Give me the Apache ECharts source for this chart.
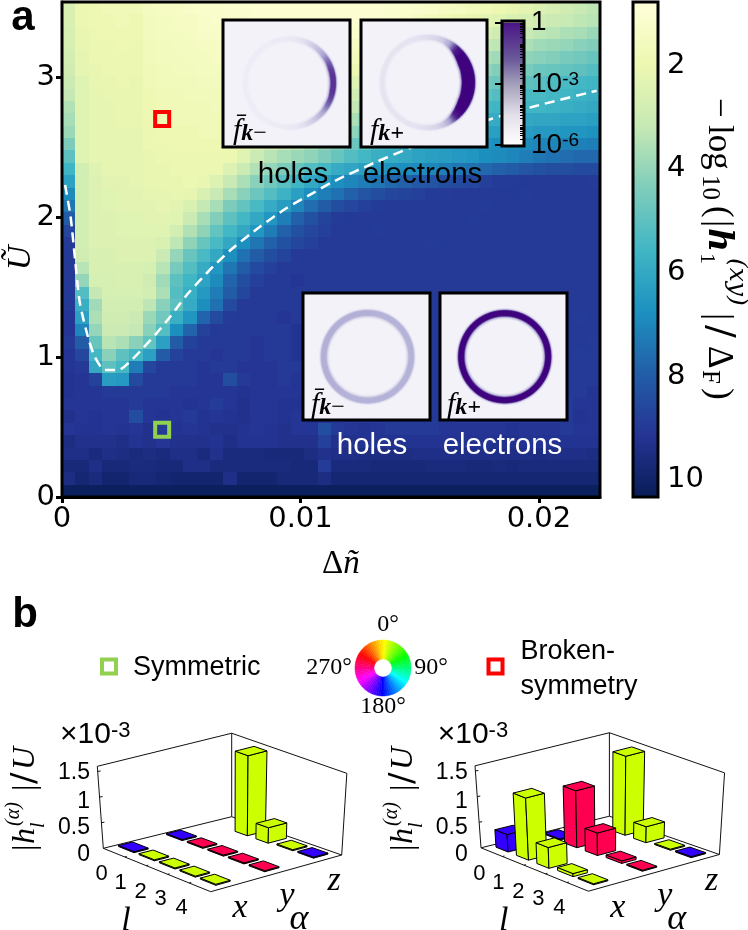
<!DOCTYPE html>
<html><head><meta charset="utf-8">
<style>html,body{margin:0;padding:0;background:#fff}#c{width:748px;height:930px}</style>
<script src="https://cdn.jsdelivr.net/npm/echarts@6/dist/echarts.min.js"></script>
</head><body><div id="c"></div>
<script>
// ---------- DATA ----------
const xMax = 0.02256, yMax = 3.536, vMin = 0.78, vMax = 10.33;
const xTicks = [0, 0.01, 0.02];
const yTicks = [0, 1, 2, 3];
const cbTicks = [2, 4, 6, 8, 10];
const paletteYlGnBu = ['#ffffd9','#edf8b1','#c7e9b4','#7fcdbb','#41b6c4','#1d91c0','#225ea8','#253494','#081d58'];
// heat rows from the top of the picture to the bottom, 40 cells each
const heatRows = [
[2.6,2.0,1.9,1.8,1.8,1.8,1.5,1.4,1.4,1.3,1.2,1.2,1.1,1.1,1,1,1,1,1,1,1,1,1,1,1.1,1.1,1.2,1.3,1.4,1.5,1.7,1.8,2,2.1,2.3,2.5,2.7,2.9,3.1,3.3],
[2.6,2.0,1.9,1.9,1.8,1.9,1.6,1.5,1.4,1.4,1.3,1.2,1.2,1.2,1.1,1.1,1.1,1.1,1,1,1,1,1,1.1,1.1,1.2,1.4,1.6,1.8,2,2.1,2.3,2.4,2.6,2.7,2.9,3,3.1,3.3,3.4],
[2.7,2.1,2,1.9,1.9,1.9,1.6,1.5,1.5,1.4,1.3,1.3,1.2,1.2,1.2,1.2,1.1,1.1,1.1,1.1,1.1,1.2,1.3,1.4,1.5,1.7,1.9,2,2.2,2.4,2.6,2.7,2.9,3,3.1,3.3,3.4,3.6,3.7,3.9],
[2.7,2.1,2,2,1.9,2,1.7,1.6,1.5,1.5,1.4,1.4,1.3,1.3,1.3,1.2,1.2,1.2,1.2,1.2,1.3,1.4,1.5,1.7,1.9,2.1,2.3,2.5,2.7,2.9,3,3.2,3.3,3.5,3.6,3.8,3.9,4,4.2,4.3],
[2.8,2.2,2,2,2,2,1.7,1.6,1.6,1.5,1.5,1.4,1.4,1.4,1.3,1.3,1.3,1.3,1.3,1.4,1.5,1.6,1.8,2,2.3,2.6,2.8,3,3.1,3.3,3.5,3.7,3.8,4,4.1,4.2,4.3,4.5,4.6,4.8],
[2.9,2.2,2.1,2,2,2,1.8,1.7,1.6,1.6,1.5,1.5,1.5,1.4,1.4,1.4,1.4,1.4,1.5,1.6,1.8,2,2.2,2.5,2.7,3,3.2,3.4,3.6,3.8,4,4.1,4.3,4.4,4.5,4.7,4.8,4.9,5,5.2],
[3,2.4,2.1,2.1,2,2.1,1.8,1.7,1.7,1.7,1.6,1.6,1.5,1.5,1.5,1.5,1.5,1.6,1.7,1.9,2.1,2.4,2.7,3,3.2,3.5,3.7,3.9,4.1,4.3,4.4,4.6,4.7,4.9,5,5.1,5.3,5.4,5.5,5.6],
[3.2,2.4,2.2,2.1,2.1,2.1,1.9,1.8,1.8,1.7,1.7,1.7,1.6,1.6,1.6,1.6,1.7,1.8,2,2.2,2.5,2.8,3.1,3.4,3.7,4,4.2,4.3,4.5,4.7,4.9,5,5.2,5.3,5.4,5.4,5.5,5.6,5.7,5.8],
[3.5,2.4,2.2,2.2,2.1,2.1,1.9,1.8,1.8,1.8,1.8,1.7,1.7,1.7,1.7,1.8,1.9,2.1,2.3,2.6,2.9,3.2,3.5,3.8,4.1,4.4,4.6,4.8,5,5.2,5.3,5.5,5.6,5.6,5.6,5.6,5.7,5.8,5.9,6],
[3.7,2.4,2.2,2.2,2.1,2.1,2,1.9,1.8,1.8,1.8,1.8,1.8,1.8,1.9,2,2.2,2.4,2.7,3,3.3,3.6,4,4.3,4.6,4.9,5.1,5.3,5.4,5.6,5.8,5.9,5.9,6,6,6.1,6.1,6.2,6.2,6.3],
[3.9,2.4,2.2,2.2,2.2,2.2,2,1.9,1.9,1.9,1.8,1.8,1.8,1.9,2.1,2.3,2.5,2.8,3.1,3.4,3.8,4.1,4.5,4.8,5.1,5.3,5.5,5.7,5.9,6,6.2,6.3,6.3,6.4,6.4,6.5,6.5,6.6,6.6,6.7],
[4.4,2.4,2.2,2.2,2.2,2.2,2,2,1.9,1.9,1.9,1.9,2,2.1,2.4,2.7,3,3.3,3.6,4,4.3,4.7,5,5.4,5.6,5.8,6,6.2,6.3,6.5,6.6,6.7,6.8,6.9,6.9,7,7,7.1,7.1,7.2],
[5,2.4,2.2,2.2,2.2,2.2,2.1,2,2,2,2,2,2,2.4,3,3.4,3.7,3.9,4.1,4.4,4.8,5.2,5.5,5.8,5.9,6,6.2,6.3,6.4,6.5,6.6,6.8,6.9,7,7.2,7.4,7.5,7.6,7.7,7.7],
[5.6,2.8,2.4,2.2,2.2,2.2,2.1,2.1,2,2,2,2,2.5,3,3.5,4,4.4,4.8,5.2,5.5,5.9,6.1,6.3,6.5,6.7,6.8,6.9,7,7.2,7.4,7.5,7.7,7.9,8,8.2,8.3,8.4,8.4,8.5,8.5],
[6.2,2.8,2.5,2.3,2.3,2.2,2.1,2.1,2.1,2,2.1,2.5,3.1,3.6,4.2,4.6,5.1,5.6,6,6.4,6.8,7,7.2,7.4,7.7,7.9,8.1,8.2,8.4,8.5,8.6,8.8,8.9,8.9,9,9,9,9,9,8.9],
[6.9,2.8,2.5,2.4,2.3,2.3,2.2,2.2,2.1,2.2,2.6,3.1,3.7,4.2,4.7,5.2,5.7,6.3,6.8,7.2,7.5,7.9,8.2,8.4,8.6,8.7,8.8,8.9,8.9,9,9,9,9,9,8.9,9,9,9,9,9],
[7.4,2.8,2.5,2.4,2.3,2.3,2.3,2.2,2.3,2.6,3.2,3.7,4.4,4.9,5.4,5.9,6.4,7,7.6,8,8.4,8.6,8.8,8.9,9,9,9,9,9,9,9,8.9,9,9,9,9,9,9,9,9],
[8,2.8,2.5,2.5,2.4,2.4,2.3,2.3,2.4,3,3.7,4.3,5,5.5,6,6.6,7.2,7.9,8.3,8.7,8.9,9,9,9,9,9,9,9,9,9,8.9,9,9,9,9,9,9,9,9,9],
[8.6,2.8,2.5,2.5,2.4,2.4,2.4,2.4,2.8,3.5,4.1,4.9,5.5,6,6.6,7.25,7.9,8.3,8.6,8.8,9,9,9,8.9,9,9,9,9,9,9,9,9,9,9,9,9,9,9,9,9],
[8.9,2.8,2.5,2.5,2.5,2.5,2.5,2.6,3.3,4.1,4.8,5.4,6,6.8,7.4,7.9,8.3,8.6,8.8,9,9,9,9,9,9,9,9,8.9,9,9,9,9,9,9,9,9,9,9,9,9],
[9,2.9,2.6,2.6,2.5,2.5,2.5,3,4,4.8,5.4,6,6.8,7.5,8,8.4,8.7,9,9,9,9,9,9,9,9,9,9,9,9,9,9,9,9,9,9,9,9,9,9,9],
[9,3.4,2.6,2.6,2.6,2.6,2.7,3.4,4.5,5.2,5.9,6.6,7.4,8,8.5,8.8,9,9,9,9,9,9,9,9,9,9,9,9,9,9,9,9,9,9,9,9,9,9,9,9],
[9,4,2.7,2.7,2.6,2.6,2.9,3.8,5,5.6,6.2,6.9,7.8,8.4,8.8,9,9,9.1,9,9,9,9,9,9,9,9,9,9,9,9,9,9,9,9,9,9,9,9,9,9],
[9,5.2,3.2,2.7,2.7,2.7,2.8,3.6,5.2,5.8,6.5,7.25,8,8.6,9,9,9,9,9,9,9,9,9,9,9,9,9,9,9,9,9,9,9,9,9,9,9,9,9,9],
[9,5.8,3.8,2.8,2.8,2.8,3.3,4.2,5,5.9,6.8,7.5,8.5,9,9,9,9,9,9,9,9,9,9,9,9,9,9,9,9,9,9,9,9,9,9,9,9,9,9,9],
[9.1,6.25,3.6,2.9,2.9,3,3.9,4.6,5.8,6.6,7.8,8.5,8.9,9,9,9,9.1,9,9,9,9,9,9,9,9,9,9,9,9,9,9,9,9,9,9,9,9,9,8.9,9],
[9.1,7,4,3,3,3.2,4.2,5.2,6.8,7.8,8.75,9,9,9,9,9,9,9.2,9,9,9,9,9,9,9,9,9,9,9,9,9,9,9,9,9,9,9,9,9,9],
[9,8,4.8,3.4,3.6,4.2,4.9,6.25,8,8.75,9,9,9,9,9.1,9,9,9.2,9,9,9,9,9,9,9,9,9,9,9,9,9,9,9,9,9,9,9,9,9,8.9],
[9.1,8.6,5.5,4.2,5,5.5,6.25,8,8.75,9,9,9.1,9,9,9.1,9,9,9.2,9.2,9,9,9,9,9,9,9,9,9,9,9,9,9,9,9,9,9,9,9,8.9,8.9],
[9.1,9,6,5,5.5,7.25,8.6,9,9,9,9.1,9,9,9.1,9.1,9.1,9,9,9.2,9,9,9,9,9,9,9,9,9,9,9,9,9,9,9,9,9,9,9,9,9],
[9.2,9.1,8.75,6.4,6.5,8.5,9,9,9,9,9.1,9.1,8.4,9,9.1,9.1,9,9.1,9.1,9,9,9,9,9,9,9,9,9,9,9,9,9,9,9,9,9,9,9,9,9],
[9.2,9.1,9.1,9,9,9,9,9,9.1,9.1,9.1,9.1,9.1,9.2,9.1,9.1,9.1,9.1,9.2,9.1,9,9,9,9,9,9,9,9,9,9,9,9,9,9,9,9,9,9,9,9.1],
[9.1,9.1,9.1,9.1,9.1,9,9.1,9.1,9.1,9.2,9.1,8.9,9.1,9.3,9.1,9.1,9.2,9.2,9.3,9.1,9,9,9,9,9,9,9,9,9,9,9,9,9,9,9,9,9,9,9.1,9.1],
[9.3,9.1,9.2,9.1,9.1,8.4,9.1,9.2,9.1,9,9.2,9.1,9.2,9.3,9.1,9.1,9.2,9.1,9.2,9.1,9.1,9,9,9,9,9,9,9,9,9,9,9,9,9,9,9,9,9,9.2,9.1],
[9.1,9.2,9.2,9.1,9.2,9.1,9.3,9,9.2,9.1,9.2,9.3,9.3,9.2,9.1,9.2,9.3,9.1,9.1,8.4,9,9.1,9.2,9.1,9,9,9,9,9.1,9.1,9.1,9.1,9.1,9.2,9.1,9.1,9.1,9,9.1,9.1],
[9.5,9.3,9.3,9.3,9.4,9.2,9.3,9.1,9.3,9.3,9.3,9.2,9.4,9.2,9.2,9.2,9.3,9.3,9.3,8.8,9.3,9.3,9.2,9.2,9.2,9.2,9.2,9.2,9.2,9.2,9.2,9.2,9.3,9.3,9.2,9.2,9.2,9.2,9.2,9.2],
[9.4,9.4,9.6,9.4,9.5,9.6,9.5,9.6,9.4,9.4,9.6,9.3,9.6,9.6,9.6,9.7,9.7,9.7,9.5,9.3,9.4,9.4,9.5,9.5,9.5,9.5,9.4,9.4,9.4,9.4,9.4,9.4,9.4,9.4,9.4,9.5,9.4,9.4,9.4,9.5],
[9.7,9.7,9.4,9.7,9.7,9.6,9.6,9.7,9.7,9.4,9.4,9.6,9.6,9.6,9.6,9.6,9.6,9.7,9.7,8.9,9.6,9.6,9.6,9.7,9.7,9.7,9.7,9.6,9.6,9.6,9.7,9.7,9.6,9.7,9.6,9.6,9.6,9.6,9.6,9.6],
[9.5,9.8,9.6,9.9,9.9,9.7,9.7,9.8,9.9,9.9,9.9,9.9,9.4,9.9,9.9,9.9,9.7,9.7,9.7,9.5,9.8,9.8,9.8,9.8,9.8,9.8,9.8,9.8,9.8,9.8,9.8,9.8,9.8,9.8,9.8,9.8,9.8,9.8,9.8,9.8],
[10.2,10.2,10.2,10.2,10.2,10.2,10.2,10.2,10.2,10.2,10.2,10.2,10.2,10.2,10.2,10.2,10.2,10.2,10.2,10.2,10.2,10.2,10.2,10.2,10.2,10.2,10.2,10.2,10.2,10.2,10.2,10.2,10.2,10.2,10.2,10.2,10.2,10.2,10.2,10.2]
];
const boundaryX = [.00013,.00036,.00055,.00075,.00109,.00138,.0018,.00235,.00292,.0034,.00397,.00453,.00523,.00633,.00717,.0083,.00942,.01052,.01136,.0132,.01472,.01786,.01975,.02242];
const boundaryY = [2.229,2.002,1.693,1.386,1.143,1.0,.907,.907,.979,1.064,1.171,1.286,1.443,1.645,1.779,1.931,2.064,2.171,2.252,2.395,2.502,2.693,2.788,2.902];
const symmetricPoint = [0.0042, 0.48];
const brokenPoint = [0.0042, 2.70];

// ring intensity and width, starting east and going round every 10 degrees
const ringA_I = [.85,.85,.8,.68,.5,.34,.22,.13,.08,.06,.05,.05,.04,.04,.04,.04,.04,.04,.04,.04,.04,.04,.04,.04,.04,.05,.05,.06,.08,.13,.22,.34,.5,.68,.8,.85];
const ringA_W = [4.5,4.5,4.5,4,4,3.5,3.5,3.5,3.5,3.5,3.5,3.5,3.5,3.5,3.5,3.5,3.5,3.5,3.5,3.5,3.5,3.5,3.5,3.5,3.5,3.5,3.5,3.5,3.5,3.5,3.5,3.5,3.5,4,4,4.5];
const ringB_I = [1,1,1,1,1,.92,.5,.26,.18,.14,.11,.1,.09,.09,.09,.09,.09,.09,.09,.09,.09,.09,.09,.09,.09,.1,.11,.14,.18,.26,.5,.92,1,1,1,1];
const ringB_W = [12,12,11.5,11,9.5,7.5,5.5,4,3.5,3.5,3.5,3.5,3.5,3.5,3.5,3.5,3.5,3.5,3.5,3.5,3.5,3.5,3.5,3.5,3.5,3.5,3.5,3.5,3.5,4,5.5,7.5,9.5,11,11.5,12];
const ringC_I = [.42,.42,.42,.42,.42,.42,.42,.42,.42,.44,.44,.44,.44,.44,.44,.44,.44,.44,.44,.44,.44,.44,.44,.44,.42,.42,.42,.42,.42,.42,.42,.42,.42,.42,.42,.42];
const ringC_W = [4.5,4.5,4.5,4.5,4.5,4.5,4.5,4.5,4.5,4.5,4.5,4.5,4.5,4.5,4.5,4.5,4.5,4.5,4.5,4.5,4.5,4.5,4.5,4.5,4.5,4.5,4.5,4.5,4.5,4.5,4.5,4.5,4.5,4.5,4.5,4.5];
const ringD_I = [1,1,1,1,1,1,1,1,1,1,1,1,1,1,1,1,1,1,1,1,1,1,1,1,1,1,1,1,1,1,1,1,1,1,1,1];
const ringD_W = [5,5,5,5,5,5,5,5,5,5,5,5,5,5,5,5,5,5,5,5,5,5,5,5,5,5,5,5,5,5,5,5,5,5,5,5];

const lLabels = ['0','1','2','3','4'];
const alphaLabels = ['x','y','z'];
const zLabels = ['1.5','1','0.5','0'];
// bar heights (units of 1e-3), index = l
const symX = [.02,.02,.02,.02,.02], symY = [.02,.02,.02,.02,.02], symZ = [null,1.55,.30,.02,.02];
const brkX = [.34,1.22,.41,.06,.02], brkY = [.02,1.11,.44,.05,.02], brkZ = [null,1.53,.31,.02,.02];
// phase colour index for each bar: 0 green, 1 red, 2 blue
const phaseX = [2,0,0,0,0], phaseY = [2,1,1,1,1], phaseZ = [null,0,0,0,2];
const phaseColors = ['#ccff00','#ff0050','#3300ff'];

// ---------- LAYOUT ----------
const chart = echarts.init(document.getElementById('c'));
const xStep = xMax/40, yStep = yMax/40;
const heatData = [];
heatRows.forEach((row,r)=>row.forEach((v,c)=>heatData.push([c,39-r,v])));
const colorOf = v => echarts.color.lerp(Math.min(1,Math.max(0,(v-vMin)/(vMax-vMin))), paletteYlGnBu);
const cbStops = paletteYlGnBu.map((c,i)=>({offset:i/8,color:c}));
const purple = ['#f4f2f9','#cfcbe4','#a9a6d2','#6a51a3','#3f007d'];
const ringMix = t => echarts.color.lerp(Math.min(1,t), purple);

const insets = [[223,20,127,127],[361,20,126,127],[303,293,127,127],[440,293,127,127]];
const rings = [
 {c:[289.5,83],R:46,I:ringA_I,W:ringA_W},
 {c:[427.5,82.5],R:47,I:ringB_I,W:ringB_W},
 {c:[367.5,356.7],R:46,I:ringC_I,W:ringC_W},
 {c:[504.7,356.7],R:46,I:ringD_I,W:ringD_W}
];

// 3D panel corners of the floor (l=0..5 along left to front, alpha=0..3 along left to back)
const panelFloor = {L:[103.3,848.3],F:[210.7,891.7],R:[341.7,855],B:[231.7,816.7]};
const panelDX = [0,377.7], panelDY = [0,-0.5];
const vanish = [231.7,2603], kz = 0.0292;
function proj(p,u,v,z){
  const s=u/5,t=v/3,f=panelFloor;
  const bx=f.L[0]*(1-s)*(1-t)+f.F[0]*s*(1-t)+f.R[0]*s*t+f.B[0]*(1-s)*t;
  const by=f.L[1]*(1-s)*(1-t)+f.F[1]*s*(1-t)+f.R[1]*s*t+f.B[1]*(1-s)*t;
  const g=1+kz*z;
  return [vanish[0]+(bx-vanish[0])*g+panelDX[p], vanish[1]+(by-vanish[1])*g+panelDY[p]];
}
const uCenter = l=>0.5+0.95*l, vCenter = a=>0.45+1.12*a;
const barData=[];
[[symX,symY,symZ],[brkX,brkY,brkZ]].forEach((set,p)=>{
  [2,1,0].forEach(a=>{
    const ph=[phaseX,phaseY,phaseZ][a];
    set[a].forEach((val,l)=>{ if(val!==null) barData.push([p,l,a,val,ph[l]]); });
  });
});

const pixAxes = {xAxisIndex:3,yAxisIndex:4};
const poly=(api,pts,style)=>({type:'polygon',shape:{points:pts.map(q=>api.coord(q))},style,silent:true});
const seg=(api,a,b,stroke,w)=>({type:'line',shape:(()=>{const A=api.coord(a),B=api.coord(b);return {x1:A[0],y1:A[1],x2:B[0],y2:B[1]};})(),style:{stroke,lineWidth:w||1},silent:true});

// ---------- TEXT ----------
const SANS='"Liberation Sans"', DJ='"DejaVu Sans"', SERIF='"Liberation Serif"', MATH='"DejaVu Serif"';
function T(x,y,text,o){o=o||{};return {type:'text',x,y,rotation:o.rot||0,z:100,silent:true,
  style:{text,fill:o.fill||'#000',fontFamily:o.ff||SANS,fontSize:o.fs||27,fontStyle:o.it?'italic':'normal',fontWeight:o.b?'bold':'normal',
  align:o.al||'center',verticalAlign:o.va||'middle',rich:o.rich}};}
function R(x,y,w,h,col,lw){return {type:'rect',z:100,silent:true,shape:{x,y,width:w,height:h},style:{fill:'none',stroke:col,lineWidth:lw}};}
const down=-Math.PI/2, up=Math.PI/2;
const kRich={k:{fontSize:24,fontFamily:SERIF,fontStyle:'italic',fontWeight:'bold',verticalAlign:'bottom'},m:{fontSize:24,fontFamily:SERIF,verticalAlign:'bottom'}};
const texts=[
 T(23,18,'a',{fs:42,b:1}), T(25,615,'b',{fs:42,b:1}),
 T(293,175,'holes',{fs:29.5}), T(422.5,175,'electrons',{fs:29.5}),
 T(372,446,'holes',{fs:29.5,fill:'#fff'}), T(502.5,446,'electrons',{fs:29.5,fill:'#fff'}),
 T(233,131,'f̄{k|k}{m|−}',{fs:30,ff:SERIF,it:1,al:'left',rich:kRich}),
 T(370,131,'f{k|k+}',{fs:30,ff:SERIF,it:1,al:'left',rich:kRich}),
 T(311,405,'f̄{k|k}{m|−}',{fs:30,ff:SERIF,it:1,al:'left',rich:kRich}),
 T(447,405,'f{k|k+}',{fs:30,ff:SERIF,it:1,al:'left',rich:kRich}),
 T(21,258,'Ũ',{fs:34,ff:SERIF,it:1,rot:up}),
 T(322,564,'Δ{n|ñ}',{fs:33,ff:SERIF,al:'left',rich:{n:{fontSize:33,fontFamily:SERIF,fontStyle:'italic'}}}),
 // colour bar title, reading downward
 T(718.5,98,'−',{fs:35,ff:SERIF,al:'left',rot:down}),
 T(718.5,125,'log',{fs:35,ff:SERIF,al:'left',rot:down}),
 T(709.5,175,'10',{fs:25,ff:SERIF,al:'left',rot:down}),
 T(718.5,206,'(',{fs:35,ff:SERIF,al:'left',rot:down}),
 T(718.5,220,'|',{fs:35,ff:SERIF,al:'left',rot:down}),
 T(718,228,'h',{fs:33,ff:MATH,it:1,b:1,al:'left',rot:down}),
 T(707,253,'1',{fs:22,ff:SERIF,al:'left',rot:down}),
 T(736,258,'(xy)',{fs:25,ff:MATH,it:1,al:'left',rot:down}),
 T(718.5,313,'|',{fs:35,ff:SERIF,al:'left',rot:down}),
 T(718.5,325,'/',{fs:38,ff:MATH,al:'left',rot:down}),
 T(718.5,346,'Δ',{fs:35,ff:SERIF,al:'left',rot:down}),
 T(710,370,'F',{fs:25,ff:SERIF,al:'left',rot:down}),
 T(718.5,388,')',{fs:35,ff:SERIF,al:'left',rot:down}),
 // legend row
 R(102,659.5,14,14,'#92d050',4), T(133,668,'Symmetric',{fs:27,al:'left'}),
 R(488.5,659.5,14,14,'#ff0000',4), T(520.5,652,'Broken-',{fs:27,al:'left'}), T(520.5,687,'symmetry',{fs:27,al:'left'}),
 T(388,625,'0°',{fs:24,ff:SERIF}), T(329,668,'270°',{fs:24,ff:SERIF}), T(431,668,'90°',{fs:24,ff:SERIF}), T(383,707,'180°',{fs:24,ff:SERIF}),
 // frames
 R(62,2,538,495,'#000',3), R(633,2,25,495,'#000',3)
];
insets.forEach(b=>texts.push(R(b[0],b[1],b[2],b[3],'#000',3)));
texts.push(R(502,21,22,125,'#000',3));
// panel b labels (left then right)
[0,1].forEach(p=>{
 const dx=panelDX[p];
 const yT=[773,802,828,855];
 zLabels.forEach((s,i)=>texts.push(T(90+dx,yT[i],s,{fs:23,al:'right'})));
 const lp=[[101.7,874],[120.7,883],[140.7,891.7],[160.7,899],[181.7,908]];
 lLabels.forEach((s,i)=>texts.push(T(lp[i][0]+dx,lp[i][1],s,{fs:22})));
 const ap=[[240,908],[287,896],[334,881]];
 alphaLabels.forEach((s,i)=>texts.push(T(ap[i][0]+dx,ap[i][1],s,{fs:34,ff:SERIF,it:1})));
 texts.push(T(126+dx,921,'l',{fs:34,ff:SERIF,it:1}));
 texts.push(T(299+dx,920,'α',{fs:36,ff:SERIF,it:1}));
 texts.push(T(60+dx,735,'×10{s|-3}',{fs:30,al:'left',rich:{s:{fontSize:22,fontFamily:SANS,verticalAlign:'top'}}}));
 // |h_l^(alpha)|/U reading upward
 texts.push(T(26+dx,851,'|',{fs:32,ff:SERIF,al:'left',rot:up}));
 texts.push(T(26+dx,844,'h',{fs:32,ff:SERIF,it:1,al:'left',rot:up}));
 texts.push(T(39+dx,828,'l',{fs:20,ff:SERIF,it:1,al:'left',rot:up}));
 texts.push(T(14+dx,826,'(α)',{fs:20,ff:SERIF,it:1,al:'left',rot:up}));
 texts.push(T(26+dx,791,'|',{fs:32,ff:SERIF,al:'left',rot:up}));
 texts.push(T(26+dx,784,'/',{fs:34,ff:MATH,al:'left',rot:up}));
 texts.push(T(26+dx,770,'U',{fs:32,ff:SERIF,it:1,al:'left',rot:up}));
});

// wheel of phases
const wheelAngles=[]; for(let a=0;a<360;a+=5) wheelAngles.push(a);

const minorExp=[]; for(let e=-6;e<0;e++) for(let k=2;k<10;k++) minorExp.push(e+Math.log10(k));
const hidden={show:false};

const option={
 animation:false,backgroundColor:'#fff',
 grid:[
  {left:62,top:2,width:538,height:495,show:true,backgroundColor:'#253494',borderWidth:0},
  {left:633,top:2,width:25,height:495},
  {left:503,top:22.7,width:21,height:122.5},
  {left:0,top:0,width:748,height:930}
 ],
 xAxis:[
  {type:'value',gridIndex:0,min:0,max:xMax,splitLine:hidden,
   axisLine:{lineStyle:{color:'#000',width:3}},
   axisTick:{length:6,lineStyle:{color:'#000',width:3},customValues:xTicks},
   axisLabel:{customValues:xTicks,color:'#000',fontFamily:'DejaVu Sans',fontSize:29,margin:8,formatter:v=>v===0?'0':String(v)}},
  {type:'value',gridIndex:1,min:0,max:1,show:false},
  {type:'value',gridIndex:2,min:0,max:1,show:false},
  {type:'value',gridIndex:3,min:0,max:748,show:false}
 ],
 yAxis:[
  {type:'value',gridIndex:0,min:0,max:yMax,splitLine:hidden,
   axisLine:{lineStyle:{color:'#000',width:3}},
   axisTick:{length:6,lineStyle:{color:'#000',width:3},customValues:yTicks},
   axisLabel:{customValues:yTicks,color:'#000',fontFamily:'DejaVu Sans',fontSize:29,margin:7}},
  {type:'value',gridIndex:1,min:vMin,max:vMax,inverse:true,position:'right',splitLine:hidden,
   axisLine:{show:false},
   axisTick:{length:6,lineStyle:{color:'#000',width:3},customValues:cbTicks},
   axisLabel:{customValues:cbTicks,color:'#000',fontFamily:'DejaVu Sans',fontSize:29,margin:9}},
  {type:'value',gridIndex:2,min:-6,max:0,position:'right',splitLine:hidden,z:20,
   axisLine:{show:false},
   axisTick:{inside:true,length:8,lineStyle:{color:'#000',width:2},customValues:[-6,-3,0]},
   axisLabel:{customValues:[-6,-3,0],color:'#000',fontFamily:'Liberation Sans',fontSize:28,margin:7,
     formatter:v=>v===0?'1':'10{s|'+v+'}',
     rich:{s:{fontSize:19,fontFamily:'Liberation Sans',verticalAlign:'top',color:'#000'}}}},
  {type:'value',gridIndex:2,min:-6,max:0,position:'right',splitLine:hidden,z:20,
   axisLine:{show:false},axisLabel:{show:false},
   axisTick:{inside:true,length:4,lineStyle:{color:'#000',width:1},customValues:minorExp}},
  {type:'value',gridIndex:3,min:0,max:930,inverse:true,show:false}
 ],
 series:[
  {type:'custom',name:'heat',xAxisIndex:0,yAxisIndex:0,z:1,progressive:0,silent:true,data:heatData,
   renderItem(p,api){
    const c=api.value(0),r=api.value(1),v=api.value(2);
    const a=api.coord([c*xStep,r*yStep]),b=api.coord([(c+1)*xStep,(r+1)*yStep]);
    const x0=Math.round(a[0]),x1=Math.round(b[0]),y0=Math.round(a[1]),y1=Math.round(b[1]);
    return {type:'rect',shape:{x:x0,y:y1,width:x1-x0,height:y0-y1},style:{fill:colorOf(v)}};
   }},
  {type:'line',name:'boundary',xAxisIndex:0,yAxisIndex:0,z:2,silent:true,showSymbol:false,smooth:0.25,
   data:boundaryX.map((x,i)=>[x,boundaryY[i]]),
   lineStyle:{color:'#fff',width:2.5,type:[10,6]}},
  {type:'scatter',name:'symmetric',xAxisIndex:0,yAxisIndex:0,z:3,silent:true,symbol:'rect',symbolSize:14,data:[symmetricPoint],
   itemStyle:{color:'rgba(0,0,0,0)',borderColor:'#92d050',borderWidth:4,opacity:1}},
  {type:'scatter',name:'broken',xAxisIndex:0,yAxisIndex:0,z:3,silent:true,symbol:'rect',symbolSize:14,data:[brokenPoint],
   itemStyle:{color:'rgba(0,0,0,0)',borderColor:'#ff0000',borderWidth:4,opacity:1}},
  {type:'custom',name:'colourbar',xAxisIndex:1,yAxisIndex:1,z:1,silent:true,data:[[vMin,vMax]],
   renderItem(p,api){
    const a=api.coord([0,api.value(0)]),b=api.coord([1,api.value(1)]);
    return {type:'rect',shape:{x:a[0],y:a[1],width:b[0]-a[0],height:b[1]-a[1]},
      style:{fill:new echarts.graphic.LinearGradient(0,0,0,1,cbStops)}};
   }},
  {type:'custom',name:'insetBar',xAxisIndex:2,yAxisIndex:2,z:6,silent:true,data:[[-6,0]],
   renderItem(p,api){
    const a=api.coord([0,api.value(1)]),b=api.coord([1,api.value(0)]);
    return {type:'rect',shape:{x:a[0],y:a[1],width:b[0]-a[0],height:b[1]-a[1]},
      style:{fill:new echarts.graphic.LinearGradient(0,0,0,1,[{offset:0,color:'#4a1486'},{offset:.3,color:'#6a5a9a'},{offset:.5,color:'#a39fbb'},{offset:.75,color:'#e2dfe9'},{offset:1,color:'#ffffff'}])}};
   }},
  {type:'custom',name:'insetBack',...pixAxes,z:5,silent:true,data:insets,
   renderItem(p,api){
    const a=api.coord([api.value(0),api.value(1)]);
    return {type:'rect',shape:{x:a[0],y:a[1],width:api.value(2),height:api.value(3)},style:{fill:purple[0]}};
   }},
  {type:'custom',name:'rings',...pixAxes,z:6,silent:true,progressive:0,data:rings.map((r,i)=>[i]),
   renderItem(p,api){
    const ring=rings[api.value(0)],kids=[];
    const n=36,sub=4,step=Math.PI*2/n/sub;
    const at=(th,rad)=>[ring.c[0]+rad*Math.cos(th),ring.c[1]-rad*Math.sin(th)];
    const Iat=q=>{const i=Math.floor(q/sub)%n,f=(q%sub)/sub;return ring.I[i]*(1-f)+ring.I[(i+1)%n]*f;};
    const Wat=q=>{const i=Math.floor(q/sub)%n,f=(q%sub)/sub;return ring.W[i]*(1-f)+ring.W[(i+1)%n]*f;};
    const layers=[[3.4,.1],[2.4,.24],[1.5,.48],[.7,.78],[0,1]];
    layers.forEach(L=>{
     for(let q=0;q<n*sub;q++){
      const a0=q*step,a1=a0+step,w0=Wat(q),w1=Wat(q+1);
      const pts=[at(a0,ring.R+L[0]*.7),at(a1,ring.R+L[0]*.7),at(a1,ring.R-w1-L[0]),at(a0,ring.R-w0-L[0])];
      const col=ringMix((Iat(q)+Iat(q+1))/2*L[1]);
      kids.push(poly(api,pts,{fill:col,stroke:col,lineWidth:.5}));
     }
    });
    return {type:'group',children:kids};
   }},
  {type:'custom',name:'panelFrames',...pixAxes,z:7,silent:true,data:[[0],[1]],
   renderItem(p,api){
    const k=api.value(0),top=1.6,col='#111';
    const c=[[0,0],[5,0],[5,3],[0,3]].map(q=>proj(k,q[0],q[1],0));
    const t=[[0,0],[5,3],[0,3]].map(q=>proj(k,q[0],q[1],top));
    const kids=[seg(api,c[0],c[1],col),seg(api,c[1],c[2],col),seg(api,c[2],c[3],col),seg(api,c[3],c[0],col),
      seg(api,c[0],t[0],col),seg(api,c[2],t[1],col),seg(api,c[3],t[2],col),seg(api,t[0],t[2],col),seg(api,t[2],t[1],col)];
    [0.5,1,1.5].forEach(z=>{const a=proj(k,0,0,z);kids.push(seg(api,a,[a[0]+3,a[1]-.5],col));});
    [1,2,3,4].forEach(u=>{const a=proj(k,u,0,0);kids.push(seg(api,a,[a[0]+2,a[1]-.5],col));});
    return {type:'group',children:kids};
   }},
  {type:'custom',name:'bars',...pixAxes,z:8,silent:true,progressive:0,data:barData,
   renderItem(p,api){
    const k=api.value(0),l=api.value(1),a=api.value(2),h=api.value(3),col=phaseColors[api.value(4)];
    const du=(h<.1?.72:.56)/2,dv=(h<.1?.33:.42)/2,u=uCenter(l),v=vCenter(a);
    const P=(s,t,z)=>proj(k,u+s*du,v+t*dv,z);
    const st={fill:col,stroke:'#000',lineWidth:1,lineJoin:'round'};
    return {type:'group',children:[
      poly(api,[P(-1,-1,0),P(1,-1,0),P(1,-1,h),P(-1,-1,h)],st),
      poly(api,[P(1,-1,0),P(1,1,0),P(1,1,h),P(1,-1,h)],st),
      poly(api,[P(-1,-1,h),P(1,-1,h),P(1,1,h),P(-1,1,h)],st)
    ]};
   }},
  {type:'pie',name:'wheel',z:9,silent:true,center:[383,668],radius:[9,28],startAngle:90,clockwise:true,
   label:{show:false},labelLine:{show:false},
   data:wheelAngles.map(a=>{const c='hsl('+((a+60)%360)+',100%,50%)';return {value:1,itemStyle:{color:c,borderColor:c,borderWidth:.5}};})}
 ],
 graphic:{elements:texts}
};
chart.setOption(option);
</script></body></html>
